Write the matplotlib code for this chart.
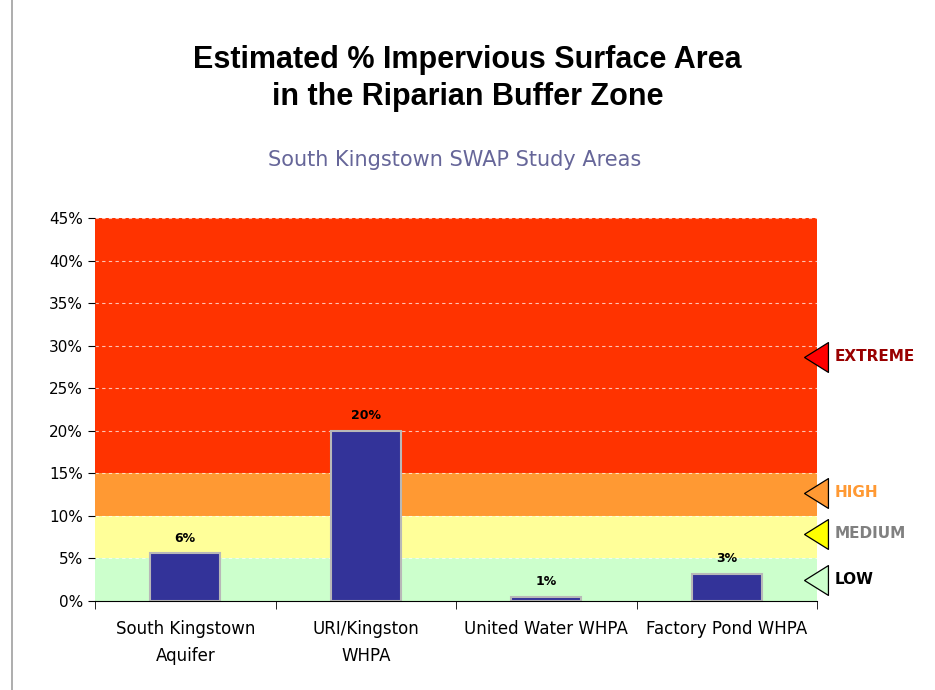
import numpy as np
import matplotlib.pyplot as plt
from matplotlib.patches import Rectangle

# data
categories = ['South Kingstown\nAquifer', 'URI/Kingston\nWHPA', 'United Water WHPA', 'Factory Pond WHPA']
values = [5.6, 20.0, 0.5, 3.2]
value_labels = ['6%', '20%', '1%', '3%']

band_edges = [0, 5, 10, 15, 45]
band_colors = ['#ccffcc', '#ffff99', '#ff9933', '#ff3300']

levels = ['LOW', 'MEDIUM', 'HIGH', 'EXTREME']
level_pos = [2.5, 7.9, 12.7, 28.7]
level_fill = ['#ccffcc', '#ffff00', '#ff9933', '#ff0000']
level_text = ['#000000', '#808080', '#ff9933', '#990000']

yticks = np.arange(0, 46, 5)

fig = plt.figure(figsize=(9.35, 6.9), dpi=100)
fig.patches.append(Rectangle((12/935, -0.01), 1.0, 1.02, transform=fig.transFigure,
                             fill=False, edgecolor='#a0a0a0', lw=1.2))

ax = fig.add_axes([95/935, 1-601/690, 722/935, 383/690])

x = np.arange(len(categories))
# background bands
for i in range(len(band_colors)):
    ax.axhspan(band_edges[i], band_edges[i+1], color=band_colors[i], zorder=0, lw=0)
for t in yticks[1:]:
    ax.axhline(t, color='#ffffff', lw=0.8, ls=(0, (3, 3)), alpha=0.7, zorder=1)

ax.bar(x, values, width=0.39, color='#333399', edgecolor='#b8b8b8', lw=1.5, zorder=2)
for xi, v, lab in zip(x, values, value_labels):
    ax.text(xi, v + 1.0, lab, ha='center', va='bottom', fontsize=9, fontweight='bold')

ax.set_xlim(-0.5, 3.5)
ax.set_ylim(0, 45)
ax.set_yticks(yticks)
ax.set_yticklabels([f'{t}%' for t in yticks], fontsize=11)
ax.set_xticks(x)
ax.set_xticklabels(categories, fontsize=12, linespacing=1.6)
ax.tick_params(axis='x', length=0, pad=14)
ax.set_xticks(np.arange(-0.5, 3.6, 1), minor=True)
ax.tick_params(axis='x', which='minor', length=6, direction='out')
ax.tick_params(axis='y', length=5, direction='out')
for s in ['top', 'right', 'left']:
    ax.spines[s].set_visible(False)
ax.spines['bottom'].set_color('black')

# level markers (left pointing triangles, a bit taller than wide)
tri = [(-0.8, 0), (0.8, 1), (0.8, -1), (-0.8, 0)]
for name, pos, fc, tc in zip(levels, level_pos, level_fill, level_text):
    ax.plot([3.495], [pos], marker=tri, markersize=21.5, markerfacecolor=fc,
            markeredgecolor='black', markeredgewidth=0.9, clip_on=False, zorder=5)
    ax.text(3.595, pos, name, ha='left', va='center', fontsize=11, fontweight='bold',
            color=tc, clip_on=False)

fig.text(0.5, 1-60/690, 'Estimated % Impervious Surface Area', ha='center', va='center',
         fontsize=22, fontweight='bold', family='Liberation Sans')
fig.text(0.5, 1-97/690, 'in the Riparian Buffer Zone', ha='center', va='center',
         fontsize=22, fontweight='bold', family='Liberation Sans')
fig.text(455/935, 1-160/690, 'South Kingstown SWAP Study Areas', ha='center', va='center',
         fontsize=15, color='#666699')

fig.savefig('out.png', dpi=100)
